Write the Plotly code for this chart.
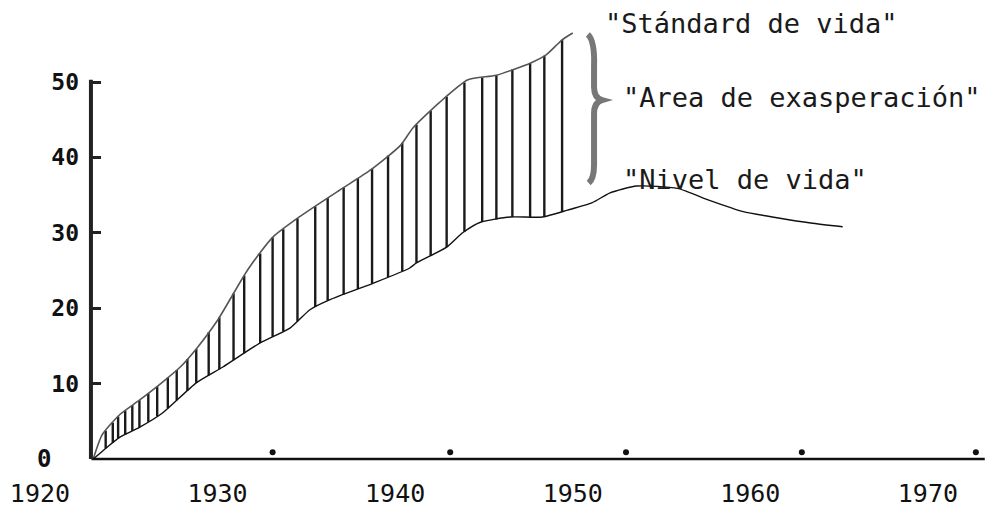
import numpy as np
import plotly.graph_objects as go

# ---- data ----
standard_years = [1923.0, 1923.5, 1924.5, 1925.6, 1926.8, 1927.9, 1928.8, 1930.0, 1931.7,
                  1933.1, 1934.6, 1936.9, 1938.6, 1940.3, 1941.0, 1942.5, 1944.1, 1945.7,
                  1947.6, 1948.5, 1949.4, 1950.0]
standard_values = [0.0, 3.2, 5.9, 7.8, 10.0, 12.2, 14.6, 18.4, 25.1,
                   29.4, 32.1, 35.7, 38.3, 41.6, 43.9, 47.3, 50.3, 50.9,
                   52.5, 53.6, 55.6, 56.5]

nivel_years = [1923.0, 1923.8, 1924.5, 1925.6, 1926.9, 1928.8, 1930.3, 1932.4, 1934.1,
               1935.2, 1936.3, 1938.75, 1940.8, 1941.2, 1942.9, 1943.8, 1944.8, 1946.5,
               1948.3, 1949.7, 1951.1, 1952.1, 1953.6, 1955.9, 1957.7, 1959.6, 1961.5,
               1963.4, 1965.2]
nivel_values = [0.0, 1.6, 2.9, 4.2, 6.1, 10.1, 12.2, 15.4, 17.4,
                19.8, 21.1, 23.3, 25.3, 26.0, 28.1, 30.0, 31.4, 32.1,
                32.1, 33.0, 34.0, 35.3, 36.2, 35.9, 34.3, 32.8, 32.0,
                31.3, 30.8]

hatch_years = [1923.7, 1924.1, 1924.4, 1924.8, 1925.2, 1925.6, 1926.1, 1926.6, 1927.2,
               1927.7, 1928.3, 1928.8, 1929.5, 1930.1, 1930.9, 1931.5, 1932.4, 1933.1,
               1933.7, 1934.5, 1935.5, 1936.2, 1937.1, 1937.9, 1938.7, 1939.6, 1940.4,
               1941.2, 1942.0, 1942.9, 1943.9, 1944.9, 1945.7, 1946.6, 1947.6, 1948.4,
               1949.4]

axis_dot_years = [1933.1, 1943.1, 1953.0, 1962.9, 1972.7]
axis_dot_values = [0.9, 0.9, 0.9, 0.9, 0.9]

x_ticks = [1920, 1930, 1940, 1950, 1960, 1970]
y_ticks = [10, 20, 30, 40, 50]

labels = ['"Stándard de vida"', '"Area de exasperación"', '"Nivel de vida"']
label_values = [57.8, 48.0, 37.1]
label_years = [1951.7, 1952.7, 1952.7]

# ---- figure ----
W, H = 997, 499  # page adds an 8px body margin

fig = go.Figure()

# hatch lines between the two curves
hx, hy = [], []
for yr in hatch_years:
    lo = float(np.interp(yr, nivel_years, nivel_values))
    hi = float(np.interp(yr, standard_years, standard_values))
    hx += [yr, yr, None]
    hy += [lo, hi, None]
fig.add_trace(go.Scatter(x=hx, y=hy, mode="lines",
                         line=dict(color="#1a1a1a", width=2.4),
                         hoverinfo="skip", showlegend=False))

fig.add_trace(go.Scatter(x=standard_years, y=standard_values, mode="lines",
                         line=dict(color="#555555", width=1.6, shape="spline", smoothing=0.6),
                         showlegend=False, name="Stándard de vida"))
fig.add_trace(go.Scatter(x=nivel_years, y=nivel_values, mode="lines",
                         line=dict(color="#111111", width=1.4, shape="spline", smoothing=0.6),
                         showlegend=False, name="Nivel de vida"))

fig.add_trace(go.Scatter(x=axis_dot_years, y=axis_dot_values, mode="markers",
                         marker=dict(color="#111111", size=6),
                         showlegend=False, hoverinfo="skip"))

# axis lines
fig.add_shape(type="line", x0=1922.9, x1=1973.2, y0=0, y1=0,
              line=dict(color="#111111", width=2.5), layer="above")
fig.add_shape(type="line", x0=1922.87, x1=1922.87, y0=0, y1=50.3,
              line=dict(color="#222222", width=4), layer="above")

# brace
fig.add_shape(type="path",
              path="M 1950.85,56.3 Q 1951.25,55.5 1951.2,52 L 1951.2,49.3 "
                   "Q 1951.2,47.9 1951.65,47.6 Q 1951.2,47.3 1951.2,45.8 "
                   "L 1951.2,39 Q 1951.2,37.2 1950.9,36.6",
              line=dict(color="#777777", width=6))

for txt, yr, v in zip(labels, label_years, label_values):
    fig.add_annotation(x=yr, y=v, text=txt, showarrow=False, xanchor="left",
                       font=dict(family="DejaVu Sans Mono", size=27, color="#1a1a1a"))

fig.add_annotation(xref="paper", x=27 / W, y=0, text="<b>0</b>", showarrow=False,
                   font=dict(family="DejaVu Sans Mono", size=24, color="#111111"))

fig.update_layout(
    width=W, height=H,
    margin=dict(l=0, r=0, t=10, b=37),
    paper_bgcolor="white", plot_bgcolor="white",
    xaxis=dict(range=[1918.2, 1974.34], tickvals=x_ticks, ticks="",
               showline=False, showgrid=False, zeroline=False,
               ticklabelstandoff=6,
               tickfont=dict(family="DejaVu Sans Mono", size=25, color="#111111")),
    yaxis=dict(range=[-1.46, 58.49], tickvals=y_ticks,
               ticktext=["<b>%d</b>" % v for v in y_ticks],
               anchor="free", position=83 / W, side="left",
               ticks="inside", ticklen=9, tickwidth=3, tickcolor="#222222",
               ticklabelstandoff=12,
               showline=False, showgrid=False, zeroline=False,
               tickfont=dict(family="DejaVu Sans Mono", size=23, color="#111111")),
)

fig.write_html("out.html")
